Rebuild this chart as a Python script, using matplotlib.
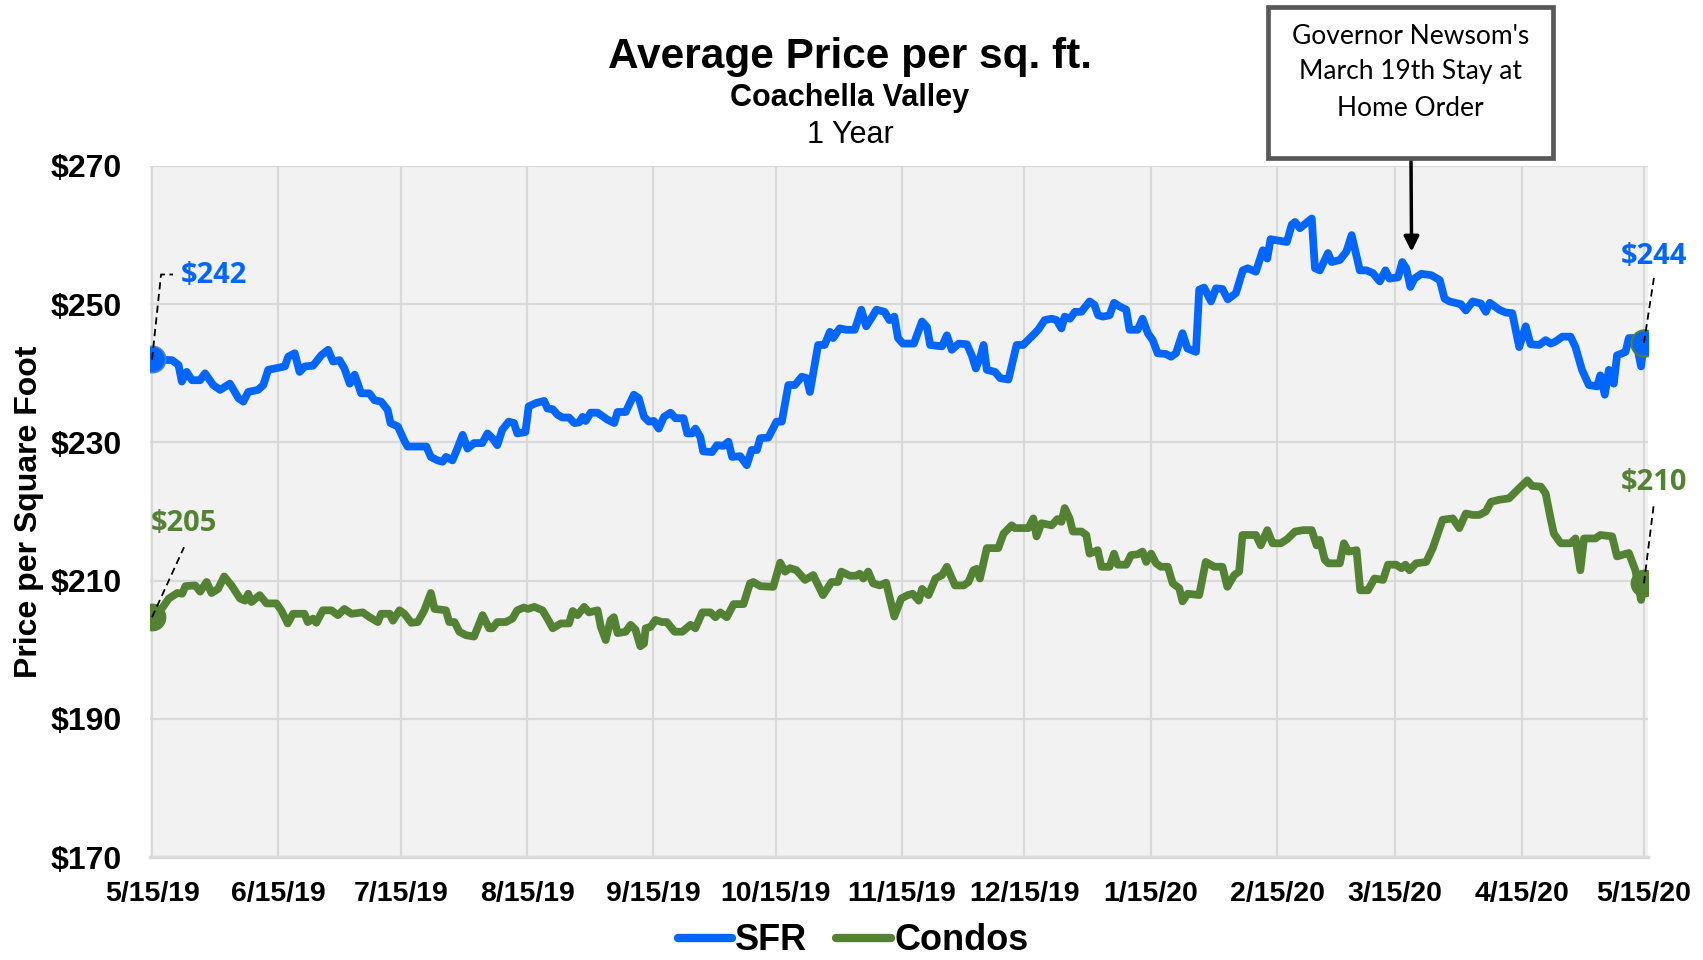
import matplotlib
matplotlib.use('Agg')
import matplotlib.pyplot as plt
import matplotlib.dates as mdates
from matplotlib.patches import Rectangle
from matplotlib.lines import Line2D
from matplotlib.transforms import IdentityTransform
import datetime as dt
import numpy as np

# ---------------- data ----------------
start_date = dt.datetime(2019, 5, 15)
tick_dates = ["2019-05-15", "2019-06-15", "2019-07-15", "2019-08-15", "2019-09-15",
              "2019-10-15", "2019-11-15", "2019-12-15", "2020-01-15", "2020-02-15",
              "2020-03-15", "2020-04-15", "2020-05-15"]
y_ticks = [170, 190, 210, 230, 250, 270]

sfr_day = [0, 4.9, 6.5, 7.3, 8.5, 9.8, 11.8, 13, 15, 16.7, 19.1, 21.2, 22.4, 23.6, 26, 27.3, 28.5, 30.1,
           32.6, 33.4, 35, 36.2, 37.5, 39.5, 41.5, 43.2, 44.4, 46, 47.2, 48.5, 49.7, 51.3, 53.3, 54.6,
           56.2, 57.8, 58.5, 60.3, 62, 62.7, 67.3, 68.4, 70, 71.3, 72.1, 73.7, 74.9, 76.2, 77.4, 79,
           81, 82.3, 83.5, 84.7, 85.9, 87.5, 88.8, 89.6, 91.6, 92.4, 94.2, 96.2, 97, 98.3, 99.5, 100.7,
           102.3, 103.6, 104.8, 105.6, 106.4, 107.6, 109.3, 111.7, 113.4, 114.2, 116.2, 118.2, 119.4,
           120.7, 121.9, 123.1, 124.3, 125.6, 127.2, 128.4, 130.4, 131.3, 132.5, 133.3, 134.5, 135.2,
           137.4, 138.6, 140.2, 141.4, 142.3, 144.3, 145.9, 147.1, 148.4, 149.2, 151.2, 153.2, 154.5,
           156.1, 157.7, 159.4, 160.6, 161.4, 163.4, 165, 166.3, 167.1, 168.7, 170.3, 172.4, 174,
           175.2, 176.4, 177.7, 179.7, 180.9, 182.1, 183, 184.2, 186.9, 188.9, 190.1, 190.9, 193.8,
           195, 196.2, 197.9, 199.9, 201.1, 202.1, 203.2, 204, 204.8, 206.8, 208.1, 210.1, 212.1,
           213.7, 215.4, 216.6, 217.4, 219, 220.7, 221.9, 223.1, 223.9, 225.2, 226.4, 228, 230,
           231.2, 232.1, 233.3, 234.9, 236, 237.3, 239, 239.8, 241.8, 243, 244.3, 245.5, 246.7,
           248.7, 250, 251.2, 252.8, 254, 256.1, 256.9, 258.1, 259.8, 261, 262.6, 263.9, 265.9,
           267.6, 268.8, 270.8, 272.5, 273.6, 274.4, 278.4, 279.6, 280.4, 281.6, 284.5, 285.3,
           286.5, 288.5, 289.4, 291.4, 293, 294.3, 296.3, 297.9, 299.5, 301.2, 302.6, 303.6, 305.7,
           306.7, 307.7, 308.7, 309.7, 311.4, 313.8, 315.9, 317.1, 318.3, 321.1, 322.3, 324, 326,
           327.2, 328.2, 330.5, 332.1, 333.7, 335.4, 337, 338.2, 340.3, 341.9, 343.1, 344.3, 346,
           348, 349.2, 350.8, 352.5, 354.5, 355.3, 356.4, 357.4, 358.6, 359.4, 361.5, 362.3, 363.9,
           365.3, 366]
sfr_val = [242.0, 241.9, 241.2, 238.8, 240.2, 239.0, 239.0, 240.0, 238.3, 237.6, 238.5, 236.4, 235.9,
           237.3, 237.6, 238.3, 240.5, 240.7, 241.0, 242.4, 242.9, 240.2, 241.0, 241.1, 242.6, 243.4,
           241.7, 241.9, 240.7, 238.5, 239.8, 237.1, 237.1, 236.1, 235.9, 234.7, 232.8, 232.3, 230.1,
           229.4, 229.4, 227.9, 227.4, 227.2, 227.9, 227.4, 229.1, 231.1, 229.1, 229.9, 229.9, 231.3,
           230.6, 229.6, 231.8, 233.0, 232.8, 231.3, 231.5, 235.2, 235.7, 236.0, 234.9, 234.8, 234.0,
           233.6, 233.6, 232.8, 232.9, 233.7, 233.1, 234.3, 234.3, 233.3, 232.8, 234.4, 234.4, 236.9,
           236.4, 233.7, 233.0, 233.1, 232.0, 233.7, 234.3, 233.5, 233.5, 231.3, 231.3, 232.0, 230.8,
           228.7, 228.6, 229.6, 229.5, 230.1, 227.9, 228.0, 226.7, 228.9, 228.9, 230.6, 230.7, 233.0,
           233.0, 238.3, 238.3, 239.5, 239.3, 237.3, 244.1, 244.1, 246.0, 245.1, 246.5, 246.3, 246.3,
           249.2, 246.8, 247.9, 249.2, 248.9, 247.7, 248.2, 245.1, 244.3, 244.3, 247.5, 246.7, 244.1,
           243.9, 245.5, 243.4, 244.3, 244.2, 242.6, 240.7, 242.4, 244.1, 240.5, 240.2, 239.3, 239.1,
           244.1, 244.1, 245.1, 245.8, 246.3, 247.7, 247.9, 247.7, 246.5, 248.2, 247.9, 248.9, 248.9,
           250.4, 249.9, 248.4, 248.2, 248.4, 250.2, 249.7, 249.2, 246.3, 246.3, 247.9, 245.8, 244.8,
           242.9, 242.8, 242.4, 242.9, 245.8, 243.6, 243.1, 252.1, 252.4, 250.4, 252.3, 252.2, 250.7,
           251.6, 254.9, 255.2, 254.7, 257.8, 256.6, 259.4, 259.0, 261.5, 261.9, 261.0, 262.4, 255.2,
           254.9, 257.4, 256.1, 256.4, 257.6, 260.0, 254.9, 254.9, 254.5, 253.3, 254.9, 253.7, 253.9,
           256.1, 255.2, 252.5, 253.7, 254.4, 254.2, 253.5, 250.8, 250.4, 250.0, 249.1, 250.4, 250.1,
           248.9, 250.2, 249.2, 248.8, 248.7, 243.8, 246.8, 244.2, 244.1, 244.8, 244.3, 244.6, 245.3,
           245.3, 243.8, 240.5, 238.3, 238.1, 239.7, 236.9, 240.5, 238.5, 242.6, 243.1, 245.1, 245.1,
           241.0, 244.4]

condo_day = [0, 2.1, 4.1, 6.2, 7.4, 8.2, 10.6, 11.8, 13.4, 14.6, 16.2, 17.7, 19.5, 21.6, 22.8, 23.6, 24.4,
             26.4, 28.1, 30.5, 31.7, 33.3, 34.6, 37.4, 38.2, 39.5, 40.3, 41.9, 44, 45.6, 47.2, 48.9,
             51.7, 53.4, 55.4, 56.2, 58.3, 59.1, 60.7, 61.9, 63.6, 65.2, 66.8, 68.4, 69.3, 72.1, 72.9,
             74.2, 75.4, 77, 79, 80.3, 81.1, 82.7, 83.5, 84.7, 86.8, 88.4, 89.6, 91.2, 92.2, 93.8,
             95.8, 97, 98.3, 100.3, 102.3, 103.2, 104.4, 106, 107.2, 109.3, 110.1, 111.3, 112.5,
             113.3, 114.2, 116.2, 117.4, 118.6, 119.8, 120.7, 121.1, 122.3, 123.5, 125.1, 126.3,
             128.2, 130.1, 132.1, 133.3, 135, 137, 138.2, 139.4, 141, 142.7, 145.1, 146.7, 147.5,
             149.2, 152.4, 154.1, 155.3, 156.5, 158.1, 160.2, 162.2, 164.6, 166.7, 168.3, 169.1,
             171.2, 172.8, 173.6, 174.5, 175.7, 176.9, 178.5, 180.1, 180.9, 182.1, 183.8, 185.4,
             186.6, 188.1, 188.9, 190.5, 192.2, 193.8, 195, 197, 199.1, 200.3, 201.5, 202.3, 203.1,
             204.8, 207.6, 208.9, 210.9, 211.7, 215, 216.2, 217, 218.2, 220.7, 222.1, 223.1, 223.9,
             225.1, 225.9, 228, 229.2, 230, 232, 232.9, 234.9, 236, 236.9, 239, 240.2, 241.8, 243,
             243.9, 245.1, 246.3, 247.5, 249.2, 250.4, 252, 252.8, 254.1, 256.9, 258.5, 260.6, 262.6,
             263.8, 265.5, 266.7, 267.5, 270.8, 272, 273.6, 274.9, 276.9, 278.5, 280.4, 282.4, 284.5,
             285.7, 286.5, 287.7, 288.6, 291.4, 292.4, 293.5, 295.5, 296.4, 298.3, 299.9, 302, 303.2,
             305.2, 306.5, 307.5, 308.5, 310.1, 312.6, 314.2, 316.6, 319.1, 320.7, 322.3, 324, 325.6,
             327.2, 328.5, 330.5, 332.9, 334.6, 337.4, 338.6, 340.7, 341.9, 343.1, 343.9, 345.6, 348,
             349.2, 350.4, 351.3, 354.1, 355.3, 358.2, 359.4, 362.3, 363.9, 365.3, 366]
condo_val = [204.7, 205.7, 207.4, 208.2, 208.1, 209.2, 209.3, 208.4, 209.8, 208.2, 208.8, 210.6, 209.3,
             207.4, 207.1, 208.1, 206.9, 207.9, 206.7, 206.7, 205.7, 203.8, 205.2, 205.2, 204.0, 204.5,
             203.9, 205.7, 205.7, 205.0, 205.9, 205.2, 205.4, 204.7, 204.0, 205.2, 205.2, 204.2, 205.7,
             205.2, 203.9, 204.0, 205.7, 208.2, 205.9, 205.7, 204.0, 204.0, 202.6, 202.1, 201.9, 203.8,
             205.0, 203.1, 203.1, 204.0, 204.0, 204.5, 205.7, 206.1, 205.9, 206.2, 205.7, 204.5, 203.1,
             203.8, 203.8, 205.6, 205.0, 206.2, 205.4, 205.7, 203.3, 201.4, 204.3, 204.7, 202.4, 202.6,
             203.6, 202.9, 200.5, 200.9, 203.1, 203.3, 204.3, 204.0, 204.0, 202.6, 202.6, 203.6, 203.1,
             205.4, 205.4, 204.7, 205.4, 204.7, 206.6, 206.6, 209.6, 209.8, 209.2, 209.1, 212.6, 211.3,
             211.8, 211.5, 210.1, 210.8, 207.9, 209.8, 209.8, 211.3, 210.7, 210.7, 211.0, 210.3, 211.3,
             209.6, 209.3, 209.7, 207.7, 204.8, 207.4, 207.9, 208.1, 207.1, 208.8, 207.9, 210.3, 210.8,
             212.0, 209.3, 209.3, 209.8, 211.5, 211.7, 210.3, 214.7, 214.7, 216.8, 218.0, 217.6, 217.6,
             219.0, 216.4, 218.3, 218.0, 218.9, 218.5, 220.5, 219.0, 217.1, 217.1, 216.6, 213.9, 214.4,
             212.0, 212.0, 213.9, 212.3, 212.3, 213.7, 213.8, 214.2, 212.7, 213.9, 212.5, 212.0, 212.0,
             209.6, 208.9, 207.0, 208.1, 207.9, 212.7, 212.0, 212.0, 209.1, 210.8, 211.3, 216.6, 216.6,
             215.1, 217.3, 215.4, 215.4, 216.0, 217.1, 217.3, 217.3, 215.1, 215.9, 213.0, 212.5, 212.5,
             215.4, 214.2, 214.4, 208.6, 208.6, 210.3, 210.1, 212.3, 212.3, 211.8, 212.3, 211.5, 212.5,
             212.7, 214.7, 218.8, 219.0, 217.6, 219.7, 219.5, 219.5, 220.0, 221.4, 221.7, 221.9, 222.9,
             224.5, 223.7, 223.6, 222.6, 219.0, 216.8, 215.4, 215.4, 216.1, 211.5, 216.1, 216.1, 216.6,
             216.4, 213.5, 214.0, 211.5, 207.2, 209.6]

event_label = "Governor Newsom's\nMarch 19th Stay at\nHome Order"
event_date = dt.datetime(2020, 3, 19)
event_value = 257.6

# ---------------- style ----------------
SFR_C = '#0066ff'
CONDO_C = '#548235'
GRID_C = '#d9d9d9'
ARIAL = ['Liberation Sans', 'DejaVu Sans']
BOLD = dict(family=ARIAL, weight='bold')
CAL = ['Lato', 'DejaVu Sans']
CALB = ['Open Sans', 'DejaVu Sans']

W, H = 1703, 960
fig = plt.figure(figsize=(W / 100, H / 100), dpi=100)
fig.patch.set_facecolor('white')
ax = fig.add_axes([150 / W, 1 - 857 / H, 1498 / W, 691 / H])
ax.set_facecolor('#f2f2f2')

base = mdates.date2num(start_date)
sx = base + np.array(sfr_day)
cx = base + np.array(condo_day)

ax.plot(sx, sfr_val, color=SFR_C, lw=5.6, solid_joinstyle='round', solid_capstyle='round', zorder=3)
ax.plot(cx, condo_val, color=CONDO_C, lw=5.6, solid_joinstyle='round', solid_capstyle='round', zorder=3)

ax.set_xlim(base - 0.5, base + 367)
ax.set_ylim(170, 270)

tparsed = [dt.datetime.strptime(d, "%Y-%m-%d") for d in tick_dates]
ax.set_xticks([mdates.date2num(d) for d in tparsed])
ax.set_xticklabels([f"{d.month}/{d.day}/{d.strftime('%y')}" for d in tparsed])
ax.set_yticks(y_ticks)
ax.set_yticklabels([f"${v}" for v in y_ticks])
for lab in ax.get_xticklabels():
    lab.set_fontproperties(dict(family=ARIAL, weight='bold', size=20.5))
for lab in ax.get_yticklabels():
    lab.set_fontproperties(dict(family=ARIAL, weight='bold', size=23))
ax.tick_params(axis='x', length=0, pad=17)
ax.tick_params(axis='y', length=0, pad=20)

ax.grid(True, color=GRID_C, lw=1.6)
ax.set_axisbelow(True)
for s in ['top', 'right', 'left']:
    ax.spines[s].set_visible(False)
ax.spines['bottom'].set_color(GRID_C)
ax.spines['bottom'].set_linewidth(2.5)

ax.set_ylabel('Price per Square Foot', fontsize=23, **BOLD)
ax.yaxis.set_label_coords((44 - 150) / 1498, 0.5)

# end markers
ax.plot(sx[0], sfr_val[0], 'o', ms=19, mfc=SFR_C, mec='#4f81e0', mew=1.2, zorder=4)
ax.plot(sx[-1], sfr_val[-1], 'o', ms=19, mfc=SFR_C, mec=CONDO_C, mew=1.5, zorder=4)
ax.plot(cx[0], condo_val[0], 'o', ms=19, mfc=CONDO_C, mec=CONDO_C, zorder=4)
ax.plot(cx[-1], condo_val[-1], 'o', ms=19, mfc=CONDO_C, mec=CONDO_C, zorder=4)

# leader lines + value labels (pixel offsets from markers)
fig.canvas.draw()


def leader(xv, yv, offsets, text, toff, color, ha):
    px, py = ax.transData.transform((xv, yv))
    xs = [px] + [px + o[0] for o in offsets]
    ys = [py] + [py + o[1] for o in offsets]
    fig.add_artist(Line2D(xs, ys, transform=IdentityTransform(), color='black', lw=1.3,
                          ls=(0, (4, 2.5)), zorder=6))
    fig.text((px + toff[0]) / W, (py + toff[1]) / H, text, color=color, fontsize=21,
             family=CALB, weight='bold', ha=ha, va='center')


leader(sx[0], sfr_val[0], [(9, 85), (21, 85)], f"${round(sfr_val[0])}", (29, 84), SFR_C, 'left')
leader(cx[0], condo_val[0], [(32, 70)], f"${round(condo_val[0])}", (32, 94), CONDO_C, 'center')
leader(sx[-1], sfr_val[-1], [(10, 65)], f"${round(sfr_val[-1])}", (10, 86), SFR_C, 'center')
leader(cx[-1], condo_val[-1], [(10, 80)], f"${round(condo_val[-1])}", (10, 101), CONDO_C, 'center')

# event box + arrow
bx0, by0, bx1, by1 = 1268, 7, 1553, 158
fig.add_artist(Rectangle((bx0 / W, 1 - by1 / H), (bx1 - bx0) / W, (by1 - by0) / H,
                         transform=fig.transFigure, facecolor='white', edgecolor='#595959',
                         lw=3.4, zorder=5))
fig.text((bx0 + bx1) / 2 / W, 1 - 72 / H, event_label, ha='center', va='center', fontsize=19,
         family=CAL, linespacing=1.55, zorder=6)
ax.annotate('', xy=(mdates.date2num(event_date), event_value), xycoords='data',
            xytext=(1411 / W, 1 - 160 / H), textcoords='figure fraction',
            arrowprops=dict(arrowstyle='-|>,head_length=0.9,head_width=0.45', color='black',
                            lw=2.5, shrinkA=0, shrinkB=0), annotation_clip=False, zorder=6)

# titles
fig.text(850 / W, 1 - 57 / H, 'Average Price per sq. ft.', ha='center', va='center', fontsize=30.5, **BOLD)
fig.text(850 / W, 1 - 98 / H, 'Coachella Valley', ha='center', va='center', fontsize=22, **BOLD)
fig.text(850 / W, 1 - 135 / H, '1 Year', ha='center', va='center', fontsize=22, family=ARIAL)

# legend
handles = [Line2D([], [], color=SFR_C, lw=6, solid_capstyle='round'),
           Line2D([], [], color=CONDO_C, lw=6, solid_capstyle='round')]
fig.legend(handles, ['SFR', 'Condos'], loc='center', bbox_to_anchor=(853 / W, 1 - 941 / H),
           ncol=2, frameon=False, handlelength=1.5, handletextpad=0.1, columnspacing=0.8,
           borderpad=0.2, prop=dict(family=ARIAL, weight='bold', size=26))

fig.savefig('out.png', dpi=100, facecolor='white')
